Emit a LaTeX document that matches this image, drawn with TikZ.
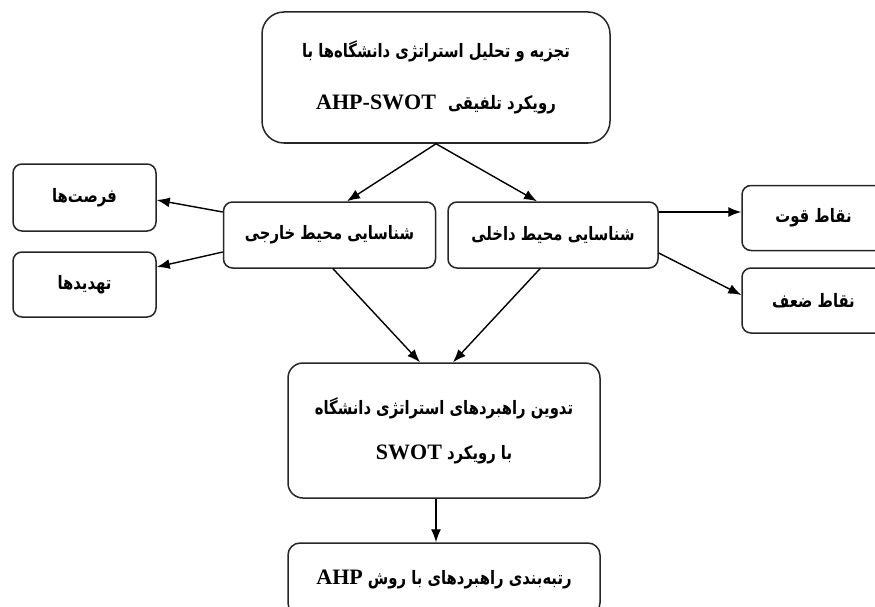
\documentclass[tikz,border=0pt]{standalone}
\usepackage{fontspec}
\usetikzlibrary{arrows.meta}
\TeXXeTstate=1
\newfontfamily\fa[Script=Arabic,FakeStretch=0.8]{DejaVu Sans}
\newfontfamily\lat{Liberation Serif}
\newcommand{\LT}[1]{\beginL{\lat\bfseries\fontsize{22}{22}\selectfont #1}\endL}
\begin{document}
\begin{tikzpicture}[x=1pt,y=-1pt,
  box/.style={draw=black!85, line width=1.5pt, rounded corners=9pt, fill=white,
    align=center, inner sep=0pt, font=\fa\bfseries\fontsize{18.5}{20}\selectfont},
  arr/.style={line width=1.4pt, -{Latex[length=13pt,width=10pt]}}]
\useasboundingbox (0,0) rectangle (875,607);
\node[box, minimum width=348pt, minimum height=131pt, rounded corners=22pt,
  font=\fa\bfseries\fontsize{18.5}{52}\selectfont] (top) at (436,77.5)
  {\beginR تجزیه و تحلیل استراتژی دانشگاه^^^^200cها با\endR\\
   \beginR رویکرد تلفیقی\hspace{12pt}\LT{AHP-SWOT}\endR};
\node[box, minimum width=212pt, minimum height=66pt] (ext) at (329.5,235)
  {\beginR شناسایی محیط خارجی\endR};
\node[box, minimum width=210pt, minimum height=66pt] (int) at (553,235)
  {\beginR شناسایی محیط داخلی\endR};
\node[box, minimum width=143pt, minimum height=67pt] (opp) at (84.5,197.5)
  {\beginR فرصت^^^^200cها\endR};
\node[box, minimum width=143pt, minimum height=65pt] (thr) at (84.5,284.5)
  {\beginR تهدیدها\endR};
\node[box, minimum width=143pt, minimum height=65pt] (str) at (813.5,218)
  {\beginR نقاط قوت\endR};
\node[box, minimum width=143pt, minimum height=65pt] (weak) at (813.5,300.5)
  {\beginR نقاط ضعف\endR};
\node[box, minimum width=312pt, minimum height=135pt, rounded corners=15pt,
  font=\fa\bfseries\fontsize{18.5}{45}\selectfont] (form) at (444,430.5)
  {\beginR تدوین راهبردهای استراتژی دانشگاه\endR\\
   \beginR با رویکرد \LT{SWOT}\endR};
\node[box, minimum width=312pt, minimum height=72pt, rounded corners=12pt] (rank) at (444,579)
  {\beginR رتبه^^^^200cبندی راهبردهای با روش \LT{AHP}\endR};
\draw[arr] (top.south) -- ([xshift=17.5pt]ext.north);
\draw[arr] (top.south) -- ([xshift=-16pt]int.north);
\draw[arr] ([yshift=23pt]ext.west) -- ([yshift=-2.5pt]opp.east);
\draw[arr] ([yshift=-17pt]ext.west) -- ([yshift=17.5pt]thr.east);
\draw[arr] ([yshift=23pt]int.east) -- ([yshift=6pt]str.west);
\draw[arr] ([yshift=-18pt]int.east) -- ([yshift=5.5pt]weak.west);
\draw[arr] ([xshift=3.5pt]ext.south) -- ([xshift=-24pt]form.north);
\draw[arr] ([xshift=-13pt]int.south) -- ([xshift=9pt]form.north);
\draw[arr] ([xshift=-8pt]form.south) -- ([xshift=-8pt]rank.north);
\end{tikzpicture}
\end{document}
